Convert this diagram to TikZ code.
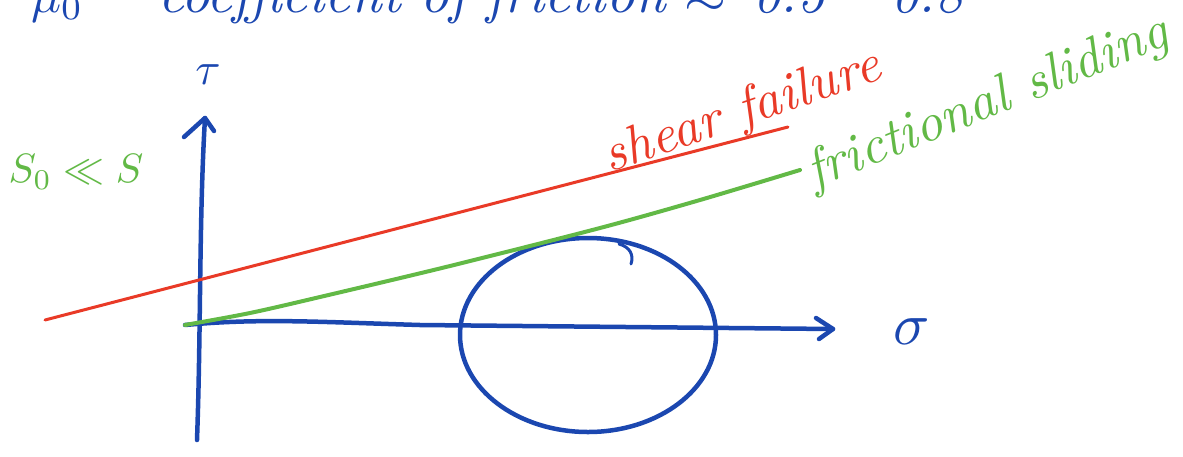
\documentclass[tikz,border=0pt]{standalone}
\usetikzlibrary{arrows.meta}
\definecolor{penblue}{HTML}{1B47B0}
\definecolor{penred}{HTML}{E93A27}
\definecolor{pengreen}{HTML}{62B946}
\begin{document}
\begin{tikzpicture}[x=1pt,y=-1pt,
  pen/.style={line width=4.5pt,line cap=round,line join=round,penblue},
  redpen/.style={line width=3pt,line cap=round,penred},
  greenpen/.style={line width=4pt,line cap=round,pengreen},
  hand/.style={inner sep=0pt,font=\itshape}]
\useasboundingbox (0,0) rectangle (1183,456);
% top heading (cut off by page edge)
\node[hand,text=penblue,anchor=base west,scale=5] (mu) at (30,12) {$\mu_0$};
\node[hand,text=penblue,anchor=base west,scale=5.6] (coef) at (157,12) {coefficient of friction};
\node[hand,text=penblue,anchor=base west,scale=5.4] (approx) at (683,12) {$\approx$};
\node[hand,text=penblue,anchor=base west,scale=5.4] (lo) at (752,12) {0.5};
\node[hand,text=penblue,anchor=base west,scale=5.4] (dash) at (842,12) {--};
\node[hand,text=penblue,anchor=base west,scale=5.4] (hi) at (890,12) {0.8};
% axes
\coordinate (ybot) at (197,440);
\coordinate (ytop) at (205,118);
\coordinate (xl) at (185,325);
\coordinate (xr) at (833,329);
\draw[pen] (ybot) .. controls (201,330) and (199,220) .. (ytop);
\draw[pen] (184,137) -- (ytop) -- (214,131);
\draw[pen] (xl) .. controls (260,318) and (320,322) .. (420,325) -- (xr);
\draw[pen] (816,318) -- (xr) -- (819,339);
\node[hand,text=penblue,scale=4.6] (tau) at (208,75) {$\tau$};
\node[hand,text=penblue,scale=6] (sigma) at (912,332) {$\sigma$};
% Mohr circle
\draw[pen] (588,335) ellipse [x radius=128, y radius=97];
\draw[pen,line width=3pt] (619,244) .. controls (630,247) and (634,255) .. (631,264);
% failure lines
\coordinate (rl) at (45,320);
\coordinate (rr) at (788,127);
\draw[redpen] (rl) -- (rr);
\draw[greenpen] plot[smooth,tension=0.5] coordinates {(xl) (250,313) (320,297) (450,266) (600,228) (700,200) (800,170)};
% labels
\node[hand,text=penred,rotate=19,scale=5.4] (shear) at (742,113) {shear failure};
\node[hand,text=pengreen,rotate=22,scale=5.4] (fric) at (988,104) {frictional sliding};
\node[hand,text=pengreen,scale=4.1] (s0) at (76,172) {$S_0 \ll S$};
\end{tikzpicture}
\end{document}
